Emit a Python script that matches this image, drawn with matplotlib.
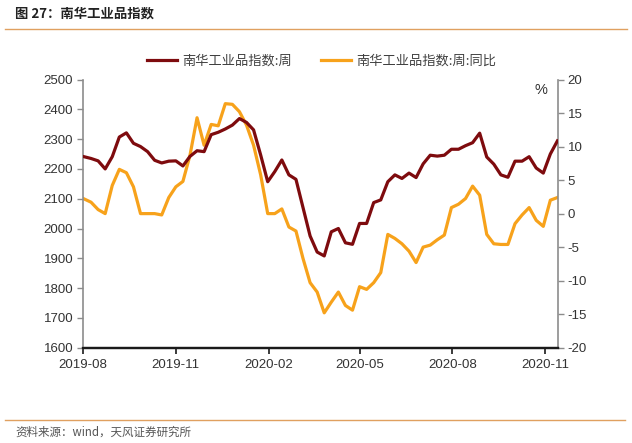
import pandas as pd
import matplotlib
matplotlib.use('Agg')
import matplotlib.pyplot as plt
import matplotlib.dates as mdates
from matplotlib.lines import Line2D

plt.rcParams['font.family'] = ['Noto Sans CJK SC', 'DejaVu Sans']
plt.rcParams['axes.unicode_minus'] = False

# weekly data
dates = pd.date_range('2019-08-02', periods=68, freq='7D')
index_weekly = [2241, 2235, 2227, 2200, 2241, 2307, 2321, 2286, 2275, 2258,
                2229, 2220, 2226, 2227, 2210, 2242, 2261, 2258, 2315, 2323,
                2334, 2347, 2369, 2356, 2331, 2247, 2157, 2191, 2230, 2180,
                2165, 2070, 1975, 1921, 1908, 1989, 2000, 1952, 1947, 2017,
                2017, 2087, 2096, 2157, 2180, 2168, 2186, 2171, 2217, 2246,
                2243, 2246, 2266, 2266, 2278, 2288, 2320, 2240, 2216, 2180,
                2172, 2226, 2226, 2241, 2203, 2186, 2250, 2294]
index_yoy = [2.2, 1.7, 0.6, 0.0, 4.2, 6.6, 6.1, 4.0, 0.0, 0.0,
             0.0, -0.2, 2.4, 4.0, 4.8, 8.7, 14.3, 10.2, 13.3, 13.1,
             16.4, 16.3, 15.2, 13.2, 10.2, 5.8, 0.0, 0.0, 0.7, -2.0,
             -2.6, -6.7, -10.3, -11.7, -14.8, -13.2, -11.7, -13.7, -14.4, -10.9,
             -11.3, -10.3, -8.8, -3.1, -3.7, -4.5, -5.6, -7.3, -5.0, -4.7,
             -3.9, -3.2, 0.9, 1.4, 2.25, 4.1, 2.75, -3.1, -4.5, -4.6,
             -4.6, -1.5, -0.2, 0.9, -1.0, -1.9, 2.0, 2.4]

red = '#7E0B0E'
orange = '#F7A21B'
rule = '#E0A060'
tickfont = {'family': 'Liberation Sans', 'size': 9.5}

fig = plt.figure(figsize=(6.32, 4.43), dpi=100)
ax = fig.add_axes([0.1313, 0.2151, 0.7516, 0.6054])
ax2 = ax.twinx()

ax.plot(dates, index_weekly, color=red, lw=2.3, zorder=3)
ax2.plot(dates, index_yoy, color=orange, lw=2.3, zorder=2)
ax.set_zorder(ax2.get_zorder() + 1)
ax.patch.set_visible(False)

ax.set_ylim(1600, 2500)
ax.set_yticks(range(1600, 2501, 100))
ax2.set_ylim(-20, 20)
ax2.set_yticks(range(-20, 21, 5))
ax.set_xlim(pd.Timestamp('2019-08-01'), pd.Timestamp('2020-11-13 14:00'))
ax.xaxis.set_major_locator(mdates.MonthLocator(bymonth=[2, 5, 8, 11]))
ax.xaxis.set_major_formatter(mdates.DateFormatter('%Y-%m'))

for a in (ax, ax2):
    a.spines['top'].set_visible(False)
    a.spines['left'].set_color('#8c8c8c')
    a.spines['right'].set_color('#8c8c8c')
    a.spines['left'].set_linewidth(1.2)
    a.spines['right'].set_linewidth(1.2)
    a.spines['bottom'].set_color('#1a1a1a')
    a.spines['bottom'].set_linewidth(1.6)
ax.spines['right'].set_visible(False)
ax2.spines['left'].set_visible(False)

ax.tick_params(axis='y', length=4, width=1, color='#8c8c8c', pad=3, labelcolor='#333333')
ax2.tick_params(axis='y', length=4, width=1, color='#8c8c8c', pad=3, labelcolor='#333333')
ax.tick_params(axis='x', length=4, width=1.2, color='#1a1a1a', pad=4, labelcolor='#333333')
for lab in ax.get_xticklabels() + ax.get_yticklabels() + ax2.get_yticklabels():
    lab.set_fontfamily(tickfont['family'])
    lab.set_fontsize(tickfont['size'])

ax2.text(0.978, 0.96, '%', transform=ax.transAxes, ha='right', va='center',
         fontsize=10.5, color='#333333', family='Liberation Sans')

handles = [Line2D([], [], color=red, lw=2.3), Line2D([], [], color=orange, lw=2.3)]
fig.legend(handles, ['南华工业品指数:周', '南华工业品指数:周:同比'], loc='center',
           bbox_to_anchor=(0.509, 0.862), ncol=2, frameon=False, fontsize=9.5,
           handlelength=2.3, handletextpad=0.4, columnspacing=2.2, labelcolor='#404040')

fig.text(0.024, 1 - 14 / 443, '图 27：南华工业品指数', fontsize=9.6, fontweight='bold',
         color='#222222', ha='left', va='center')
fig.add_artist(Line2D([5 / 632, 627 / 632], [1 - 28.5 / 443] * 2, color=rule, lw=1))
fig.add_artist(Line2D([5 / 632, 625 / 632], [1 - 419.5 / 443] * 2, color=rule, lw=1))
fig.text(0.024, 1 - 432 / 443, '资料来源：wind，天风证券研究所', fontsize=8.3,
         color='#555555', ha='left', va='center')

fig.savefig('out.png', dpi=100)
